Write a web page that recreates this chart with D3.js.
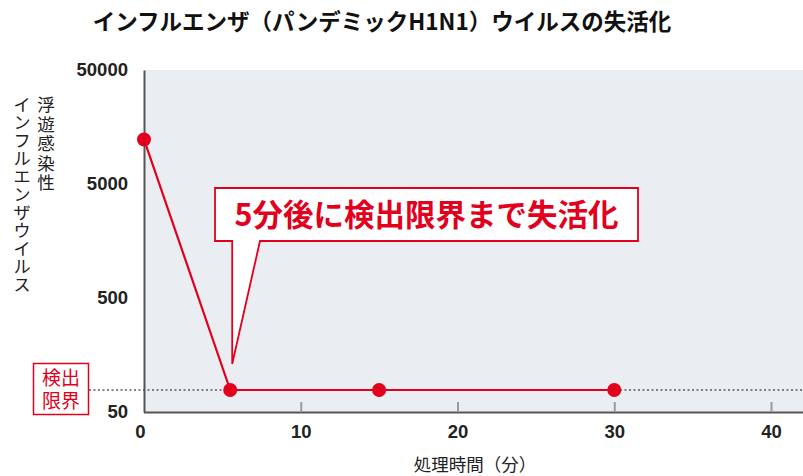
<!DOCTYPE html>
<html lang="ja">
<head>
<meta charset="utf-8">
<script src="https://cdn.jsdelivr.net/npm/d3@7"></script>
<style>
  html, body { margin: 0; padding: 0; background: #ffffff; }
  svg { display: block; font-family: "Noto Sans CJK JP", "Noto Sans", sans-serif; }
</style>
</head>
<body>
<svg id="chart" width="803" height="476"></svg>
<script>
// Elapsed treatment time (minutes) and airborne infectious virus count
const minutes = [0, 5.5, 15, 30];
const virus = [12300, 78, 78, 78];
const detectionLimit = 78;

const yTicks = [50, 500, 5000, 50000];
const xTicks = [0, 10, 20, 30, 40];

const title = "インフルエンザ（パンデミックH1N1）ウイルスの失活化";
const yTitleLines = ["浮遊感染性", "インフルエンザウイルス"];
const xTitle = "処理時間（分）";
const calloutText = "5分後に検出限界まで失活化";
const limitLabel = ["検出", "限界"];

const RED = "#e2001c";
const W = 803, H = 476;
const svg = d3.select("#chart");

const x = d3.scaleLinear().domain([0, 40]).range([144, 771]);
const y = d3.scaleLog().domain([50, 50000]).range([412, 70]);

// plot background
svg.append("rect")
  .attr("x", x(0)).attr("y", y(50000))
  .attr("width", W - x(0)).attr("height", y(50) - y(50000))
  .attr("fill", "#eaeef2");

// title
svg.append("text")
  .attr("x", 382).attr("y", 30)
  .attr("text-anchor", "middle")
  .attr("font-size", 22.5).attr("font-weight", 700)
  .attr("fill", "#111")
  .text(title);

// detection limit dotted line
svg.append("line")
  .attr("x1", 89).attr("x2", W)
  .attr("y1", y(detectionLimit)).attr("y2", y(detectionLimit))
  .attr("stroke", "#5a5a5a").attr("stroke-width", 1.3)
  .attr("stroke-dasharray", "2,2.5");

// y axis
const yAxis = svg.append("g")
  .attr("transform", `translate(${x(0)},0)`)
  .call(d3.axisLeft(y).tickValues(yTicks).tickFormat(d3.format("d"))
    .tickSizeInner(0).tickSizeOuter(0).tickPadding(16));
yAxis.select(".domain").attr("stroke", "#555").attr("stroke-width", 2);
yAxis.selectAll("text")
  .attr("font-size", 18.5).attr("font-weight", 700)
  .attr("font-family", "'Liberation Sans Narrow', 'Liberation Sans', sans-serif")
  .attr("fill", "#222");

// x axis with inward ticks
const xAxis = svg.append("g")
  .attr("transform", `translate(0,${y(50)})`)
  .call(d3.axisBottom(x).tickValues(xTicks).tickFormat(d3.format("d"))
    .tickSizeInner(-10).tickSizeOuter(0).tickPadding(13));
xAxis.select(".domain").attr("d", `M${x(0)},0.5H${W}`)
  .attr("stroke", "#555").attr("stroke-width", 2);
xAxis.selectAll(".tick line").attr("stroke", "#9a9a9a").attr("stroke-width", 2)
  .filter(d => d === 0).remove();
xAxis.selectAll("text")
  .attr("font-size", 18.5).attr("font-weight", 700)
  .attr("font-family", "'Liberation Sans Narrow', 'Liberation Sans', sans-serif")
  .attr("fill", "#222");
xAxis.selectAll(".tick").filter(d => d === 0).select("text").attr("x", -4);

// x axis title
svg.append("text")
  .attr("x", 475).attr("y", 471)
  .attr("text-anchor", "middle")
  .attr("font-size", 17.5).attr("fill", "#222")
  .text(xTitle);

// y axis title, vertical two-column writing
const yTitleX = [46, 22];
const yTitleSpacing = [2, 0.5];
yTitleLines.forEach((line, i) => {
  svg.append("text")
    .attr("x", yTitleX[i]).attr("y", 96)
    .attr("font-size", 17.5).attr("fill", "#222")
    .attr("letter-spacing", yTitleSpacing[i])
    .style("writing-mode", "vertical-rl")
    .style("text-orientation", "upright")
    .text(line);
});

// detection limit label box
svg.append("rect")
  .attr("x", 33.5).attr("y", 363.5).attr("width", 55).attr("height", 51)
  .attr("fill", "#ffffff").attr("stroke", RED).attr("stroke-width", 1.5);
svg.append("text")
  .attr("text-anchor", "middle")
  .attr("font-size", 19).attr("fill", RED)
  .selectAll("tspan")
  .data(limitLabel)
  .join("tspan")
  .attr("x", 61)
  .attr("y", (d, i) => 385 + i * 23)
  .text(d => d);

// data line
const pts = minutes.map((m, i) => [x(m), y(virus[i])]);
svg.append("path")
  .attr("d", d3.line()(pts))
  .attr("fill", "none").attr("stroke", RED).attr("stroke-width", 2.2);

// callout with pointer to the 5-minute point
const cb = { x0: 215, x1: 638, y0: 188, y1: 241 };
const tipX = x(minutes[1]) + 2, tipY = 364;
svg.append("path")
  .attr("d", `M${cb.x0},${cb.y0}H${cb.x1}V${cb.y1}H260L${tipX},${tipY}V${cb.y1}H${cb.x0}Z`)
  .attr("fill", "#ffffff").attr("stroke", RED).attr("stroke-width", 1.8)
  .attr("stroke-linejoin", "miter");
svg.append("text")
  .attr("x", (cb.x0 + cb.x1) / 2).attr("y", 226)
  .attr("text-anchor", "middle")
  .attr("font-size", 30.5).attr("font-weight", 700).attr("fill", RED)
  .text(calloutText);

// data points
svg.selectAll("circle.pt")
  .data(pts)
  .join("circle")
  .attr("class", "pt")
  .attr("cx", d => d[0]).attr("cy", d => d[1])
  .attr("r", 7).attr("fill", RED);
</script>
</body>
</html>
